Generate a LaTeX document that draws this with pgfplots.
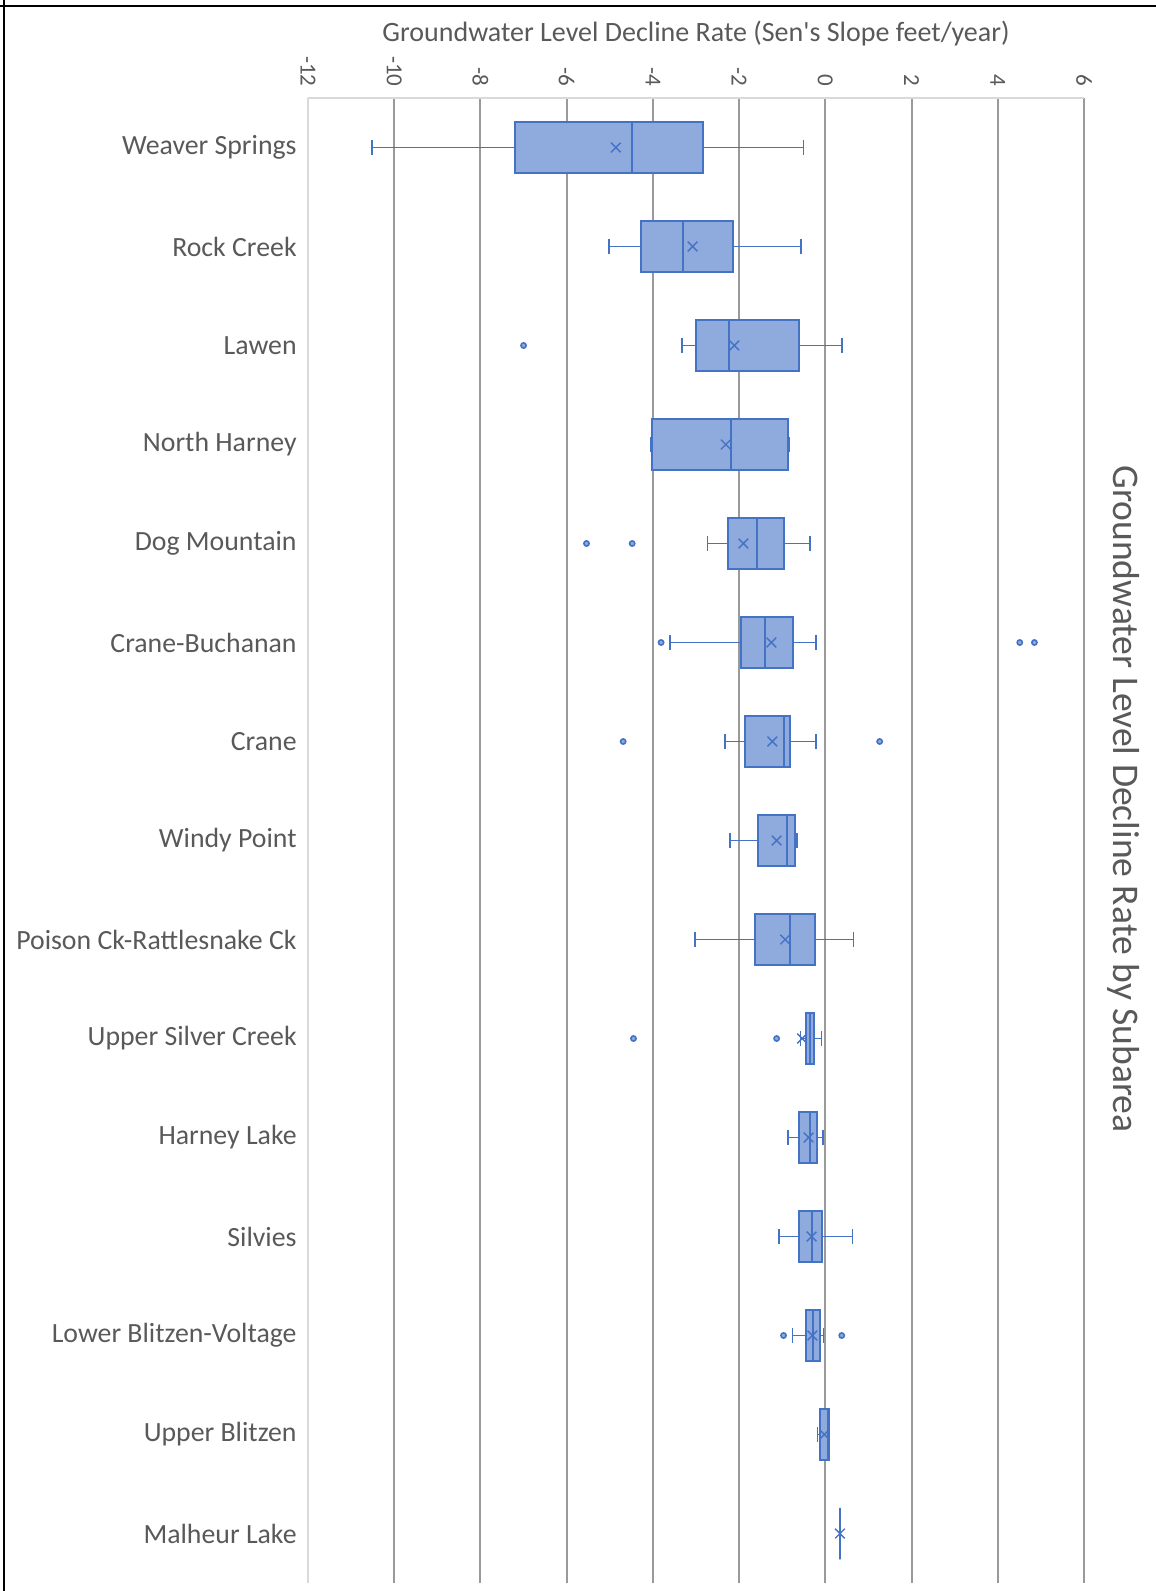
\documentclass[border=0pt]{standalone}
\usepackage{fontspec}
\setmainfont{Carlito}
\newfontfamily\plainfont{Carlito}[Ligatures=NoCommon]
\usepackage{pgfplots}
\pgfplotsset{compat=1.18}
\usepgfplotslibrary{statistics}
\definecolor{boxfill}{HTML}{8FAADC}
\definecolor{boxedge}{HTML}{4472C4}
\definecolor{txt}{HTML}{595959}
\definecolor{gridc}{HTML}{9A9A9A}
\definecolor{axc}{HTML}{D9D9D9}
\pgfplotsset{bx/.style={boxplot prepared={#1}, draw=boxedge, fill=boxfill, line width=1bp,
  boxplot/box extend=0.52, boxplot/whisker extend=0.15,
  boxplot/every whisker/.style={line width=0.8bp},
  boxplot/every median/.style={line width=1bp}}}
\begin{document}
\begin{tikzpicture}
\begin{axis}[
  at={(0,0)}, anchor=north west,
  scale only axis, width=388bp, height=742.5bp,
  xmin=-12, xmax=6, ymin=0.5, ymax=15.5,
  axis x line*=top, axis y line*=left,
  axis line style={draw=axc, line width=0.8bp, -},
  xtick={-10,-8,...,6},
  extra x ticks={-12}, extra x tick style={grid=none},
  xmajorgrids, major grid style={draw=gridc, line width=1bp},
  major tick length=0pt,
  /pgf/number format/assume math mode=true,
  xticklabel style={rotate=-90, anchor=east, inner sep=0pt, xshift=-5.5bp,
     font=\fontsize{11.5bp}{13bp}\selectfont, text=txt},
  ytick={1,...,15},
  yticklabels={Malheur Lake, Upper Blitzen, Lower Blitzen-Voltage, Silvies, Harney Lake,
    Upper Silver Creek, Poison Ck-Rattlesnake Ck, Windy Point, Crane, Crane-Buchanan,
    Dog Mountain, North Harney, Lawen, Rock Creek, Weaver Springs},
  yticklabel style={anchor=east, inner sep=0pt, xshift=-5.5bp,
     font=\fontsize{13.9bp}{16bp}\selectfont, text=txt},
  boxplot/draw direction=x,
  clip=false,
]
\addplot[bx={draw position=15, lower whisker=-10.51, lower quartile=-7.19, median=-4.48, upper quartile=-2.83, upper whisker=-0.51}] coordinates {};
\addplot[bx={draw position=14, lower whisker=-5.02, lower quartile=-4.27, median=-3.30, upper quartile=-2.14, upper whisker=-0.56}] coordinates {};
\addplot[bx={draw position=13, lower whisker=-3.32, lower quartile=-2.99, median=-2.24, upper quartile=-0.61, upper whisker=0.38}] coordinates {};
\addplot[bx={draw position=12, lower whisker=-4.05, lower quartile=-4.02, median=-2.18, upper quartile=-0.87, upper whisker=-0.84}] coordinates {};
\addplot[bx={draw position=11, lower whisker=-2.73, lower quartile=-2.25, median=-1.59, upper quartile=-0.95, upper whisker=-0.36}] coordinates {};
\addplot[bx={draw position=10, lower whisker=-3.60, lower quartile=-1.95, median=-1.40, upper quartile=-0.74, upper whisker=-0.21}] coordinates {};
\addplot[bx={draw position=9, lower whisker=-2.33, lower quartile=-1.87, median=-0.95, upper quartile=-0.81, upper whisker=-0.22}] coordinates {};
\addplot[bx={draw position=8, lower whisker=-2.21, lower quartile=-1.56, median=-0.88, upper quartile=-0.71, upper whisker=-0.66}] coordinates {};
\addplot[bx={draw position=7, lower whisker=-3.03, lower quartile=-1.63, median=-0.81, upper quartile=-0.24, upper whisker=0.65}] coordinates {};
\addplot[bx={draw position=6, lower whisker=-0.58, lower quartile=-0.45, median=-0.36, upper quartile=-0.26, upper whisker=-0.09}] coordinates {};
\addplot[bx={draw position=5, lower whisker=-0.87, lower quartile=-0.62, median=-0.36, upper quartile=-0.20, upper whisker=-0.06}] coordinates {};
\addplot[bx={draw position=4, lower whisker=-1.07, lower quartile=-0.62, median=-0.32, upper quartile=-0.07, upper whisker=0.63}] coordinates {};
\addplot[bx={draw position=3, lower whisker=-0.76, lower quartile=-0.44, median=-0.29, upper quartile=-0.12, upper whisker=-0.04}] coordinates {};
\addplot[bx={draw position=2, lower whisker=-0.18, lower quartile=-0.12, median=0.06, upper quartile=0.09, upper whisker=0.09}] coordinates {};
\addplot[bx={draw position=1, lower whisker=0.34, lower quartile=0.34, median=0.34, upper quartile=0.34, upper whisker=0.34}] coordinates {};
% means
\addplot[only marks, mark=x, mark size=3.4bp, draw=boxedge, line width=0.7bp] coordinates {
(-4.86,15) (-3.08,14) (-2.11,13) (-2.31,12) (-1.90,11) (-1.25,10) (-1.23,9) (-1.13,8)
(-0.93,7) (-0.54,6) (-0.39,5) (-0.32,4) (-0.30,3) (-0.02,2) (0.34,1)};
% outliers
\addplot[only marks, mark=*, mark size=1.3bp, draw=boxedge, fill=boxfill, line width=0.8bp] coordinates {
(-7.0,13) (-5.54,11) (-4.48,11) (-3.81,10) (4.51,10) (4.85,10) (-4.69,9) (1.26,9)
(-4.45,6) (-1.13,6) (-0.97,3) (0.38,3)};
\node[anchor=center, text=txt, font=\plainfont\fontsize{14bp}{16bp}\selectfont] at (rel axis cs:0.5,1) [yshift=32bp] {Groundwater Level Decline Rate (Sen's Slope feet/year)};
\end{axis}
\node[anchor=center, rotate=-90, text=txt, font=\fontsize{18.8bp}{22bp}\selectfont] at (408bp,-350.5bp) {Groundwater Level Decline Rate by Subarea};
\draw[line width=1.3bp] (-152bp,49bp) -- (-152bp,-746.5bp);
\draw[line width=1.3bp] (-154bp,46bp) -- (424bp,46bp);
\pgfresetboundingbox
\path[use as bounding box] (-154bp,49bp) rectangle (424bp,-746.5bp);
\end{tikzpicture}
\end{document}
